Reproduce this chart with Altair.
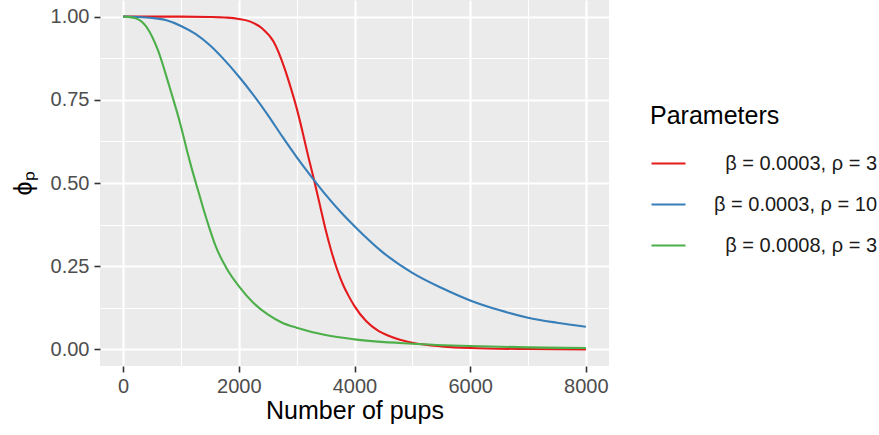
import altair as alt
import pandas as pd

labels = ["β = 0.0003, ρ = 3", "β = 0.0003, ρ = 10", "β = 0.0008, ρ = 3"]
colors = ["#E41A1C", "#377EB8", "#4DAF4A"]

red_n = [0, 500, 1000, 1500, 1800, 2000, 2200, 2400, 2600, 2800, 2900, 3000, 3100, 3200,
         3300, 3400, 3500, 3600, 3700, 3800, 3900, 4000, 4200, 4400, 4600, 4800, 5000,
         5500, 6000, 7000, 8000]
red_v = [1.0, 1.0, 1.0, 0.999, 0.997, 0.993, 0.985, 0.965, 0.925, 0.84, 0.785, 0.725, 0.655,
         0.58, 0.51, 0.435, 0.36, 0.295, 0.24, 0.195, 0.16, 0.13, 0.085, 0.057, 0.04, 0.028,
         0.02, 0.009, 0.004, 0.001, 0.0]

blue_n = [0, 250, 500, 750, 1000, 1250, 1500, 1750, 2000, 2250, 2500, 2750, 3000, 3250, 3500,
          3750, 4000, 4500, 5000, 5500, 6000, 6500, 7000, 7500, 8000]
blue_v = [1.0, 0.999, 0.996, 0.989, 0.972, 0.948, 0.914, 0.87, 0.82, 0.765, 0.705, 0.64, 0.578,
          0.52, 0.465, 0.415, 0.37, 0.29, 0.23, 0.185, 0.147, 0.118, 0.095, 0.08, 0.068]

green_n = [0, 200, 400, 600, 800, 1000, 1100, 1200, 1300, 1400, 1500, 1600, 1800, 2000, 2250,
           2500, 2750, 3000, 3500, 4000, 5000, 6000, 7000, 8000]
green_v = [1.0, 0.996, 0.97, 0.9, 0.79, 0.67, 0.6, 0.535, 0.475, 0.415, 0.36, 0.31, 0.24, 0.19,
           0.14, 0.105, 0.08, 0.065, 0.043, 0.03, 0.017, 0.01, 0.006, 0.004]

x_ticks = [0, 1000, 2000, 3000, 4000, 5000, 6000, 7000, 8000]
y_ticks = [0, 0.125, 0.25, 0.375, 0.5, 0.625, 0.75, 0.875, 1.0]

rows = []
for lab, ns, vs in zip(labels, [red_n, blue_n, green_n], [red_v, blue_v, green_v]):
    for n, v in zip(ns, vs):
        rows.append({"pups": n, "phi": v, "Parameters": lab})
df = pd.DataFrame(rows)

FONT = "Liberation Sans"
x_major = "datum.value % 2000 === 0"
y_major = "round(datum.value * 8) % 2 === 0"

chart = alt.Chart(df).mark_line(strokeWidth=2.1, interpolate="monotone").encode(
    x=alt.X(
        "pups:Q",
        scale=alt.Scale(domain=[-400, 8400], nice=False, zero=False),
        axis=alt.Axis(
            values=x_ticks, format="d", title="Number of pups",
            labelExpr=f"{x_major} ? datum.label : ''",
            tickOpacity={"condition": {"test": x_major, "value": 1}, "value": 0},
            gridWidth={"condition": {"test": x_major, "value": 2.2}, "value": 1.1},
            labelPadding=4, titlePadding=2,
        ),
    ),
    y=alt.Y(
        "phi:Q",
        scale=alt.Scale(domain=[-0.05, 1.05], nice=False, zero=False),
        axis=alt.Axis(
            values=y_ticks, format=".2f", title="ϕₚ",
            labelExpr=f"{y_major} ? datum.label : ''",
            tickOpacity={"condition": {"test": y_major, "value": 1}, "value": 0},
            gridWidth={"condition": {"test": y_major, "value": 2.2}, "value": 1.1},
            labelPadding=5, titlePadding=14,
        ),
    ),
    color=alt.Color(
        "Parameters:N",
        scale=alt.Scale(domain=labels, range=colors),
        legend=alt.Legend(
            title="Parameters", orient="none", legendX=550, legendY=104,
            symbolType="stroke", symbolSize=1156, symbolStrokeWidth=2.2,
            labelAlign="right", labelOffset=190, rowPadding=12, titlePadding=16,
        ),
    ),
).properties(
    width=509, height=366, autosize="none",
    padding={"left": 100, "top": 0, "right": 270, "bottom": 69},
).configure_view(
    fill="#EBEBEB", strokeWidth=0,
).configure_axis(
    domain=False, gridColor="#FFFFFF", tickColor="#333333", tickSize=6, tickWidth=1.6,
    labelFont=FONT, labelFontSize=20, labelColor="#4D4D4D",
    titleFont=FONT, titleFontSize=25, titleFontWeight="normal", titleColor="#000000",
).configure_legend(
    titleFont=FONT, titleFontSize=25, titleFontWeight="normal", titleColor="#000000",
    labelFont=FONT, labelFontSize=20, labelColor="#1A1A1A", labelLimit=400,
)

chart.save("out.html", embed_options={"renderer": "svg", "actions": False})
